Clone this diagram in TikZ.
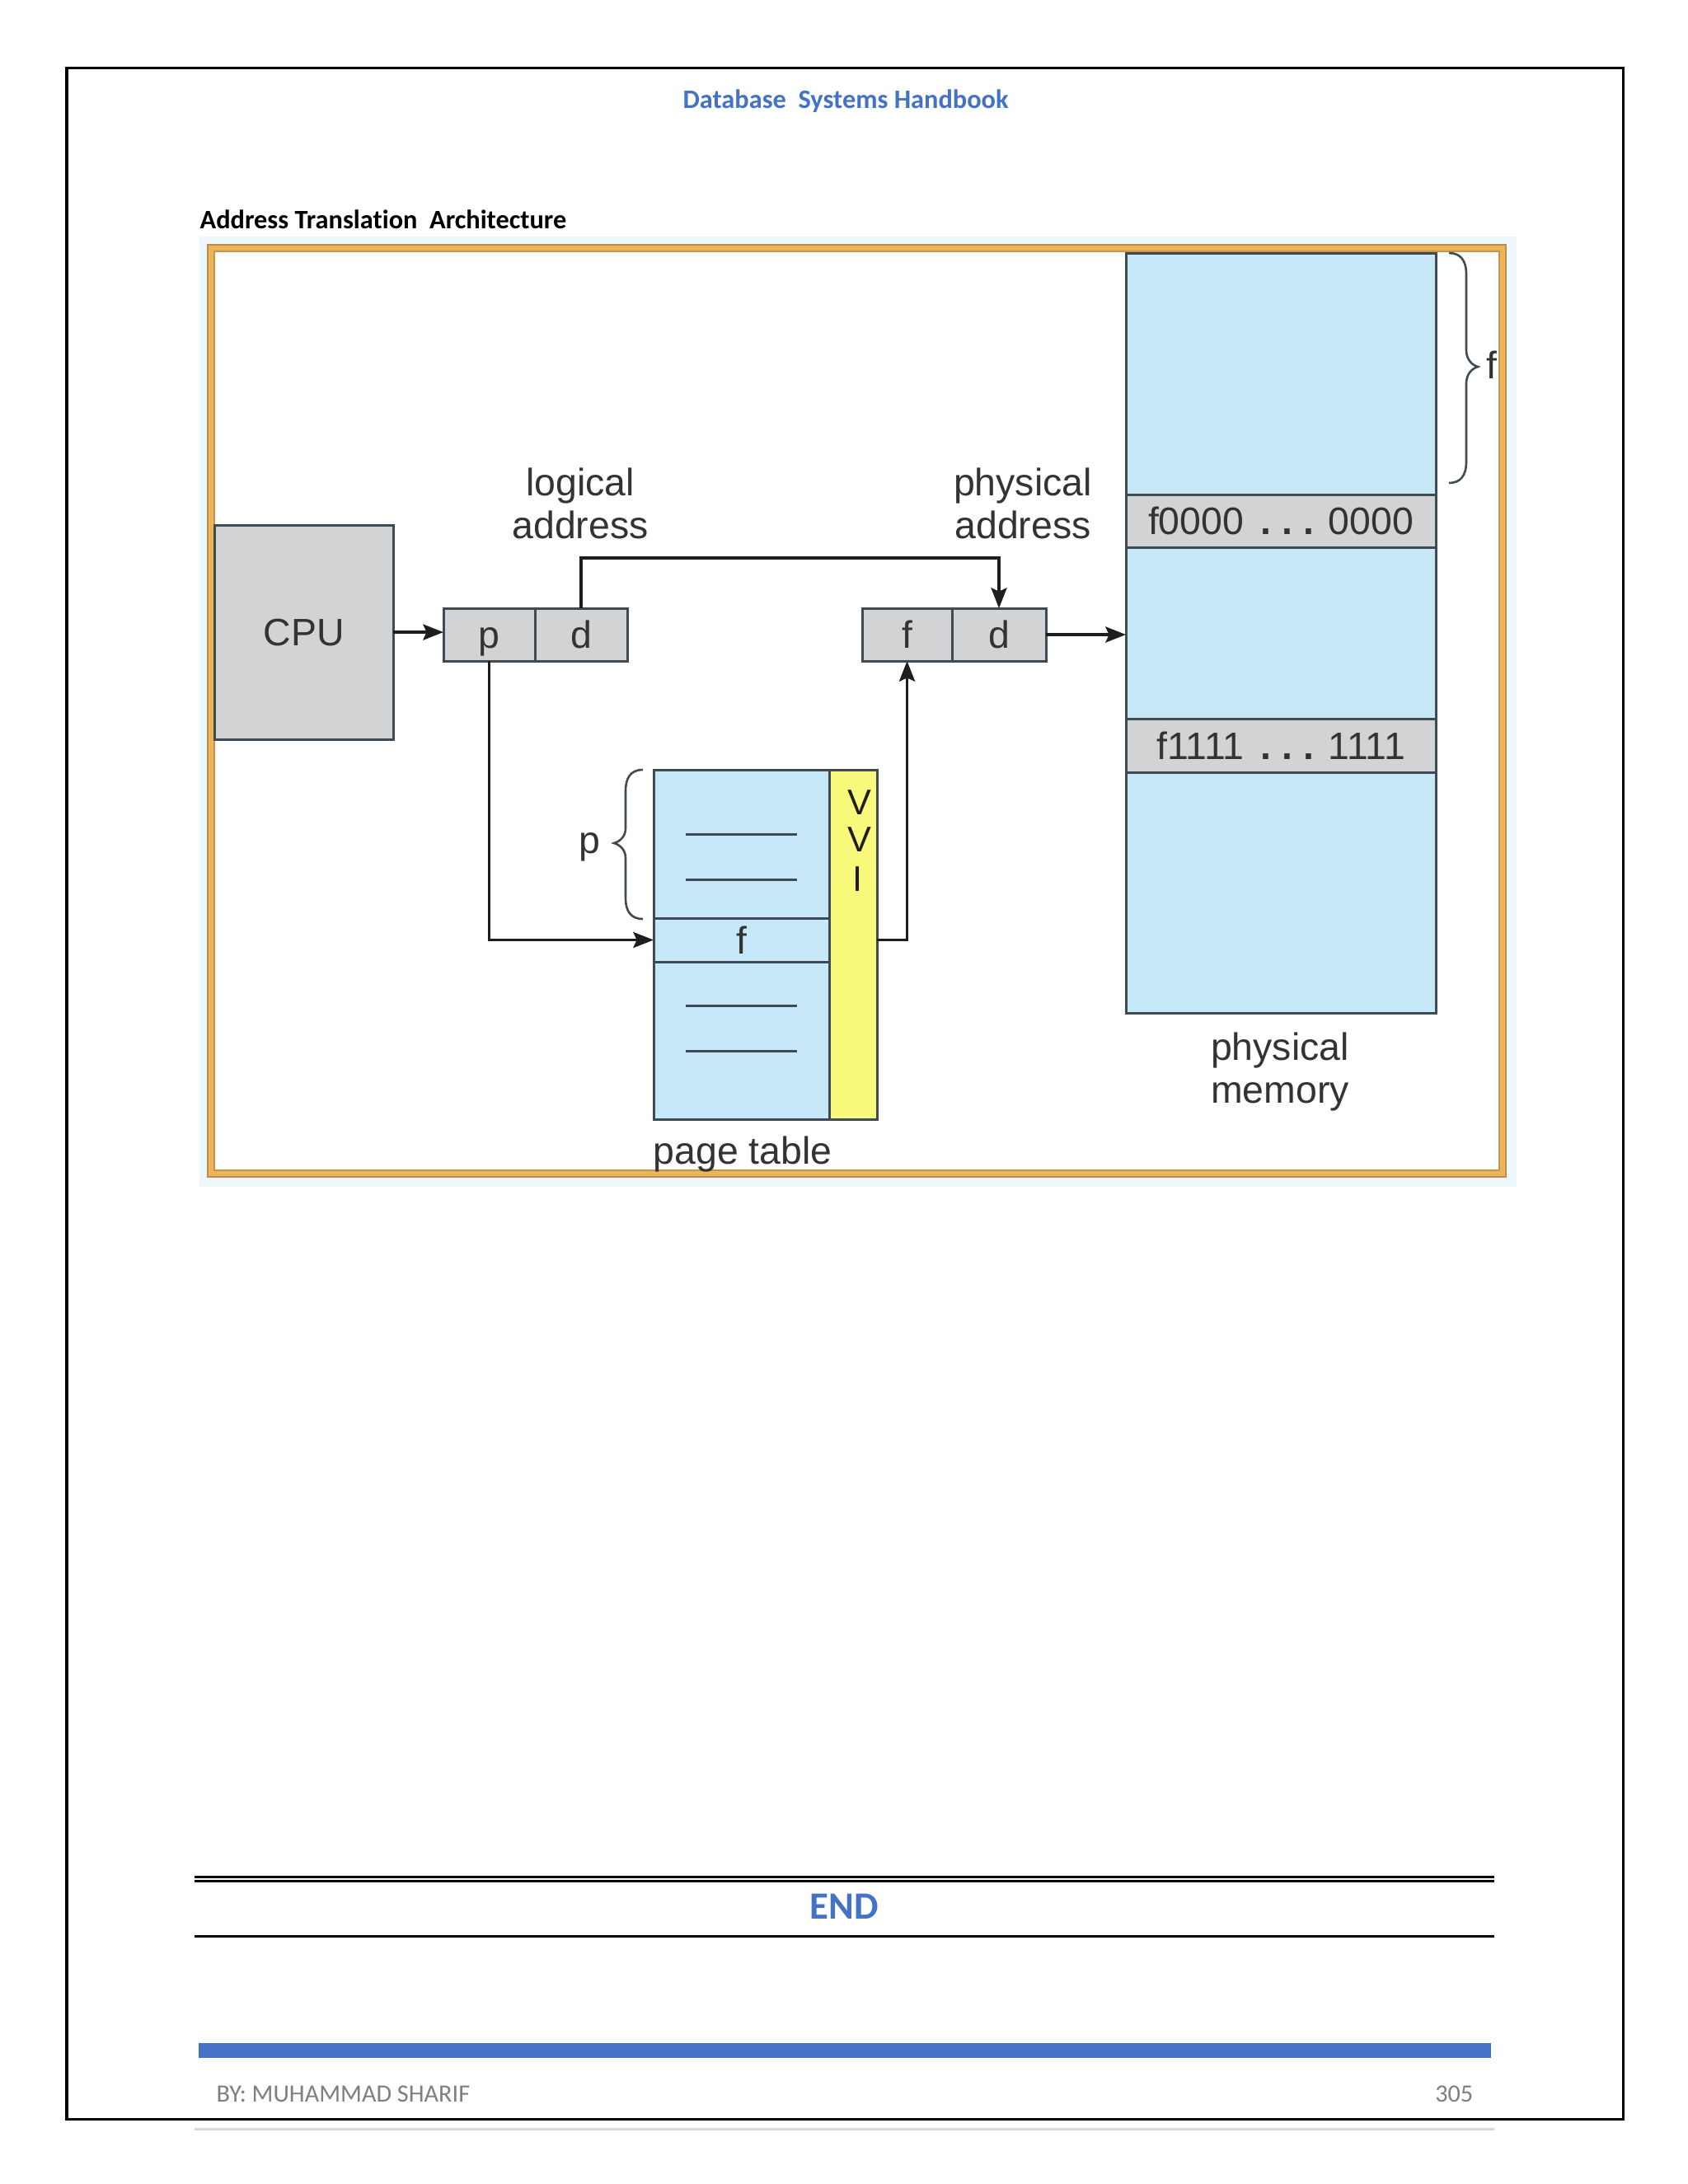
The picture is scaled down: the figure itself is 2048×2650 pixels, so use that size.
\documentclass[tikz,border=0pt]{standalone}
\usepackage{fontspec}
\setmainfont{Liberation Sans}
\newfontfamily\calfont[Ligatures={NoCommon}]{Carlito}
\newfontfamily\diagfont{Liberation Sans}
\usetikzlibrary{arrows.meta}
\definecolor{hdrblue}{HTML}{4472C4}
\definecolor{memblue}{HTML}{C6E8F8}
\definecolor{boxgray}{HTML}{D2D3D4}
\definecolor{vyellow}{HTML}{F9F97C}
\definecolor{edgecol}{HTML}{3F4A52}
\definecolor{linecol}{HTML}{1E1E1E}
\definecolor{txtcol}{HTML}{333333}
\definecolor{goldcol}{HTML}{EDB55A}
\definecolor{goldedge}{HTML}{BE8A4E}
\definecolor{paleblue}{HTML}{EEF7F9}
\definecolor{footgray}{HTML}{7F7F7F}
\definecolor{rulegray}{HTML}{D9D9D9}
\tikzset{
  lbl/.style={font=\diagfont\fontsize{13.2}{15}\selectfont, text=txtcol, inner sep=0pt, outer sep=0pt},
  smalllbl/.style={font=\diagfont\fontsize{12.3}{14}\selectfont, text=linecol, inner sep=0pt, outer sep=0pt},
  cellbox/.style={draw=edgecol, line width=0.03cm, inner sep=0pt, outer sep=0pt, anchor=north west,
                  font=\diagfont\fontsize{13.2}{15}\selectfont, text=txtcol},
  grayfill/.style={cellbox, fill=boxgray},
  bluefill/.style={cellbox, fill=memblue},
  yellowfill/.style={cellbox, fill=vyellow},
  arr/.style={draw=linecol, line width=0.037cm, -{Stealth[length=7pt,width=5.4pt,inset=1.2pt]}},
  bracepath/.style={draw=edgecol, line width=0.026cm},
  dashline/.style={draw=edgecol, line width=0.03cm},
  hdr/.style={font=\calfont\bfseries\fontsize{9.2}{11}\selectfont, inner sep=0pt},
}
\begin{document}
\begin{tikzpicture}[x=0.01cm,y=-0.01cm]
\useasboundingbox (0,0) rectangle (2048,2650);
\fill[white] (0,0) rectangle (2048,2650);

% page border
\draw[black, line width=0.03cm] (81,82) rectangle (1969,2571);

% header and title
\node[hdr, text=hdrblue, anchor=base] (header) at (1026,131) {Database\ \ Systems Handbook};
\node[hdr, text=black, anchor=base west] (title) at (242,277) {Address Translation\ \ Architecture};

% picture frame
\fill[paleblue] (242,287) rectangle (1840,1440);
\fill[white] (252,297) rectangle (1827,1428);
\draw[goldcol, line width=0.08cm] (256,301) rectangle (1823,1424);
\draw[goldedge, line width=0.015cm] (252,297) rectangle (1827,1428);
\draw[goldedge!80!goldcol, line width=0.015cm] (260,305) rectangle (1819,1420);

% CPU
\node[grayfill, minimum width=2.17cm, minimum height=2.60cm] (cpu) at (260,637) {CPU};

% logical address
\node[grayfill, minimum width=1.11cm, minimum height=0.64cm, text height=0.33cm, text depth=0pt] (lp) at (538,738) {p};
\node[grayfill, minimum width=1.12cm, minimum height=0.64cm, text height=0.33cm, text depth=0pt] (ld) at (649,738) {d};
\node[lbl, anchor=base] (la1) at (704,601) {logical};
\node[lbl, anchor=base] (la2) at (704,653) {address};

% physical address
\node[grayfill, minimum width=1.09cm, minimum height=0.64cm, text height=0.33cm, text depth=0pt] (pf) at (1046,738) {f};
\node[grayfill, minimum width=1.14cm, minimum height=0.64cm, text height=0.33cm, text depth=0pt] (pd) at (1155,738) {d};
\node[lbl, anchor=base] (pa1) at (1241,601) {physical};
\node[lbl, anchor=base] (pa2) at (1241,653) {address};

% physical memory
\node[bluefill, minimum width=3.76cm, minimum height=9.22cm] (mem) at (1366,307) {};
\node[grayfill, minimum width=3.76cm, minimum height=0.64cm] (band1) at (1366,600)
  {f0000\hspace{0.2cm}{\bfseries .}\hspace{0.13cm}{\bfseries .}\hspace{0.13cm}{\bfseries .}\hspace{0.18cm}0000};
\node[grayfill, minimum width=3.76cm, minimum height=0.65cm] (band2) at (1366,872)
  {f1111\hspace{0.2cm}{\bfseries .}\hspace{0.13cm}{\bfseries .}\hspace{0.13cm}{\bfseries .}\hspace{0.18cm}1111};
\node[lbl, anchor=base] (pm1) at (1553,1286) {physical};
\node[lbl, anchor=base] (pm2) at (1553,1338) {memory};

% right brace with f
\draw[bracepath] (1758,307) .. controls (1772,307) and (1779,316) .. (1779,333) -- (1779,425)
  .. controls (1779,436) and (1786,443) .. (1793,445)
  .. controls (1786,447) and (1779,454) .. (1779,465) -- (1779,560)
  .. controls (1779,577) and (1772,586) .. (1758,586);
\node[lbl, anchor=base] (fbr) at (1810,459) {f};

% page table
\node[bluefill, minimum width=2.13cm, minimum height=4.24cm] (pt) at (793,934) {};
\node[cellbox, minimum width=2.13cm, minimum height=0.53cm] (ptf) at (793,1114) {f};
\node[yellowfill, minimum width=0.58cm, minimum height=4.24cm] (vb) at (1006,934) {};
\node[lbl, anchor=base] (ptl) at (901,1412) {page table};
\node[smalllbl, anchor=base] (v1) at (1043,988) {V};
\node[smalllbl, anchor=base] (v2) at (1043,1033) {V};
\node[smalllbl, anchor=base] (v3) at (1041,1081) {I};
\draw[dashline] (832,1012) -- (967,1012);
\draw[dashline] (832,1067) -- (967,1067);
\draw[dashline] (832,1220) -- (967,1220);
\draw[dashline] (832,1275) -- (967,1275);

% left brace with p
\draw[bracepath] (780,934) .. controls (765,934) and (759,944) .. (759,960) -- (759,1005)
  .. controls (759,1015) and (752,1021) .. (745,1023)
  .. controls (752,1025) and (759,1031) .. (759,1041) -- (759,1090)
  .. controls (759,1105) and (765,1115) .. (780,1115);
\node[lbl, anchor=base] (plbl) at (715,1035) {p};

% connectors
\draw[arr] (cpu.east) -- (cpu.east -| lp.west);
\draw[arr] (ld.north) -- ++(0,-61) -| (pd.north);
\draw[arr] (lp.south) |- (ptf.west);
\draw[arr] (vb.east |- ptf.west) -| (pf.south);
\draw[arr] (pd.east) -- (pd.east -| mem.west);

% end section
\draw[black, line width=0.025cm] (236,2277.5) -- (1813,2277.5);
\draw[black, line width=0.025cm] (236,2282.5) -- (1813,2282.5);
\node[font=\calfont\bfseries\fontsize{13.3}{15}\selectfont, text=hdrblue, inner sep=0pt, anchor=base] (endtxt) at (1024,2328) {END};
\draw[black, line width=0.03cm] (236,2349) -- (1813,2349);

% footer
\fill[hdrblue] (241,2479) rectangle (1809,2497);
\node[font=\calfont\fontsize{8.6}{10}\selectfont, text=footgray, inner sep=0pt, anchor=base west] (author) at (262,2550) {BY: MUHAMMAD SHARIF};
\node[font=\calfont\fontsize{8.6}{10}\selectfont, text=footgray, inner sep=0pt, anchor=base east] (pageno) at (1788,2550) {305};
\draw[rulegray, line width=0.03cm] (236,2583) -- (1813,2583);
\end{tikzpicture}
\end{document}
